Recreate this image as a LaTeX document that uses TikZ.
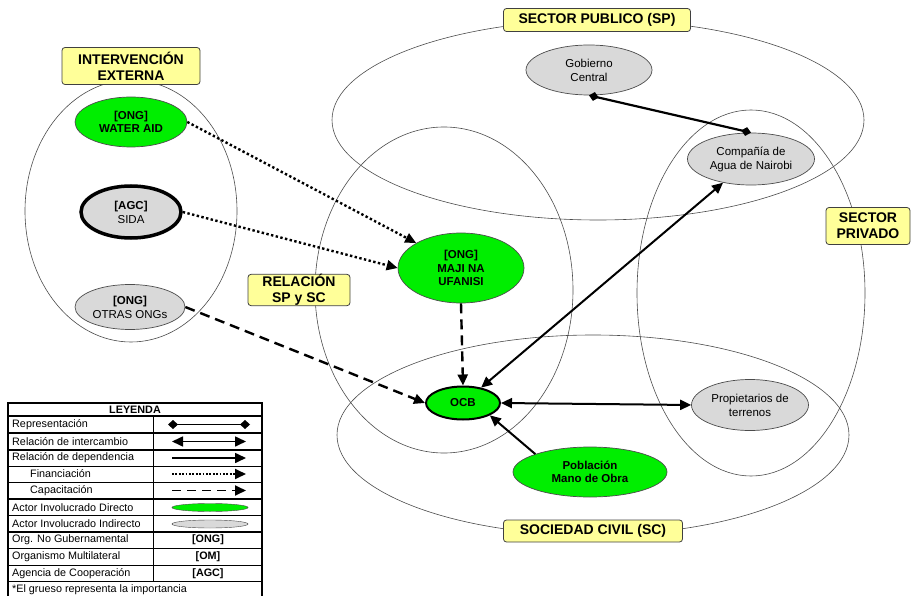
\documentclass[tikz,border=0pt]{standalone}
\usepackage{fontspec}
\setmainfont{Liberation Sans}
\usetikzlibrary{shapes.geometric,arrows.meta}
\definecolor{tagyellow}{RGB}{255,255,153}
\definecolor{actgreen}{RGB}{0,238,0}
\definecolor{actgray}{RGB}{217,217,217}
\tikzset{%
	region/.style={draw=black!70, line width=0.6pt},
	tag/.style={draw=black!75, fill=tagyellow, rounded corners=3pt, line width=0.8pt,
		align=center, inner sep=0pt, font=\bfseries\fontsize{14}{16}\selectfont},
	actor/.style={ellipse, draw=black!70, line width=0.7pt, align=center, inner sep=0pt,
		font=\fontsize{11.5}{14}\selectfont},
	direct/.style={actor, fill=actgreen, font=\bfseries\fontsize{11.5}{13.5}\selectfont},
	indirect/.style={actor, fill=actgray},
	repr/.style={line width=2.2pt, {Diamond[length=10pt,width=9pt]}-{Diamond[length=10pt,width=9pt]}},
	exch/.style={line width=2pt, {Triangle[length=11pt,width=10pt]}-{Triangle[length=11pt,width=10pt]}},
	dep/.style={line width=2pt, -{Triangle[length=11pt,width=10pt]}},
	fund/.style={dep, line width=2.4pt, dash pattern=on 2.4pt off 2.4pt},
	train/.style={dep, line width=2.4pt, dash pattern=on 10pt off 6pt},
	legtext/.style={anchor=west, inner sep=0pt, font=\fontsize{10.8}{12}\selectfont},
	legcode/.style={inner sep=0pt, font=\bfseries\fontsize{10.8}{12}\selectfont}
}

\begin{document}
\begin{tikzpicture}[x=1pt, y=-1pt]
	\useasboundingbox (0,0) rectangle (913,596);
	% regions
	\draw [region] (131,211) ellipse [x radius=106pt, y radius=131pt];
	\draw [region] (598,120) ellipse [x radius=266pt, y radius=100pt];
	\draw [region] (444,290) ellipse [x radius=129pt, y radius=163pt];
	\draw [region] (751,293) ellipse [x radius=114pt, y radius=183pt];
	\draw [region] (593,435) ellipse [x radius=256pt, y radius=100pt];
	\node [tag, minimum width=138pt, minimum height=37pt] (tagext) at (131,66) {INTERVENCIÓN\\EXTERNA};
	\node [tag, minimum width=187pt, minimum height=23pt] (tagsp) at (597,20) {SECTOR PUBLICO (SP)};
	\node [tag, minimum width=102pt, minimum height=31pt] (tagrel) at (299,290) {RELACIÓN\\SP y SC};
	\node [tag, minimum width=84pt, minimum height=37pt] (tagpriv) at (868,226) {SECTOR\\PRIVADO};
	\node [tag, minimum width=179pt, minimum height=22pt] (tagsc) at (593,531) {SOCIEDAD CIVIL (SC)};
	% actors
	\node [direct, minimum width=112pt, minimum height=50pt] (wateraid) at (131,122) {[ONG]\\WATER AID};
	\node [indirect, draw=black, line width=3.5pt, minimum width=100pt, minimum height=52pt] (sida) at (131,212) {\textbf{[AGC]}\\SIDA};
	\node [indirect, minimum width=110pt, minimum height=45pt] (otras) at (130,307) {\textbf{[ONG]}\\OTRAS ONGs};
	\node [indirect, minimum width=126pt, minimum height=50pt] (gobierno) at (589,70) {Gobierno\\Central};
	\node [indirect, minimum width=127pt, minimum height=52pt] (compania) at (751,159) {Compañía de\\Agua de Nairobi};
	\node [direct, minimum width=126pt, minimum height=70pt] (maji) at (461,268) {[ONG]\\MAJI NA\\UFANISI};
	\node [direct, draw=black, line width=2pt, minimum width=74pt, minimum height=33pt] (ocb) at (463,403) {OCB};
	\node [indirect, minimum width=117pt, minimum height=51pt] (propiet) at (750,405) {Propietarios de\\terrenos};
	\node [direct, minimum width=154pt, minimum height=50pt] (poblacion) at (590,472) {Población\\Mano de Obra};
	% relations
	\draw [repr] (gobierno.south) -- (compania.north);
	\draw [fund] (wateraid.east) -- (maji.north west);
	\draw [fund] (sida.east) -- (maji.west);
	\draw [train] (otras.east) -- (ocb.west);
	\draw [train] (maji.south) -- (ocb.north);
	\draw [exch] (ocb) -- (compania);
	\draw [exch] (ocb.east) -- (propiet.west);
	\draw [dep] (poblacion.north west) -- (ocb.south east);
	% legend
	\draw [line width=1.5pt] (8,596) -- (8,403) -- (262,403) -- (262,596);
	\draw [line width=1.2pt] (8,416) -- (262,416);
	\draw [line width=1.5pt] (8,433) -- (262,433);
	\draw [line width=1.5pt] (8,450) -- (262,450);
	\draw [line width=0.6pt] (8,466) -- (262,466);
	\draw [line width=0.6pt] (8,482.5) -- (262,482.5);
	\draw [line width=1.5pt] (8,499) -- (262,499);
	\draw [line width=0.6pt] (8,515.5) -- (262,515.5);
	\draw [line width=1.5pt] (8,532) -- (262,532);
	\draw [line width=0.6pt] (8,548.5) -- (262,548.5);
	\draw [line width=0.6pt] (8,565) -- (262,565);
	\draw [line width=0.6pt] (8,581.5) -- (262,581.5);
	\draw [line width=0.8pt] (153,416) -- (153,581.5);
	\node [legcode] (leghead) at (135,409.5) {LEYENDA};
	\node [legtext] (leg1) at (12,424.5) {Representación};
	\node [legtext] (leg2) at (12,441.5) {Relación de intercambio};
	\node [legtext] (leg3) at (12,458) {Relación de dependencia};
	\node [legtext] (leg4) at (30,474) {Financiación};
	\node [legtext] (leg5) at (30,490.5) {Capacitación};
	\node [legtext] (leg6) at (12,507.5) {Actor Involucrado Directo};
	\node [legtext] (leg7) at (12,524) {Actor Involucrado Indirecto};
	\node [legtext] (leg8) at (12,540) {Org. No Gubernamental};
	\node [legtext] (leg9) at (12,556.5) {Organismo Multilateral};
	\node [legtext] (leg10) at (12,573.5) {Agencia de Cooperación};
	\node [legtext] (leg11) at (12,589.5) {*El grueso representa la importancia};
	\coordinate (repra) at (168,424.5);
	\coordinate (reprb) at (250,424.5);
	\coordinate (excha) at (172,441.5);
	\coordinate (exchb) at (246,441.5);
	\coordinate (depa) at (172,458);
	\coordinate (depb) at (246,458);
	\coordinate (funda) at (172,474);
	\coordinate (fundb) at (246,474);
	\coordinate (traina) at (172,490.5);
	\coordinate (trainb) at (246,490.5);
	\draw [repr, line width=1.6pt] (repra) -- (reprb);
	\draw [exch, line width=1.6pt] (excha) -- (exchb);
	\draw [dep, line width=1.6pt] (depa) -- (depb);
	\draw [fund, line width=1.8pt, dash pattern=on 1.8pt off 1.6pt] (funda) -- (fundb);
	\draw [train, line width=1.8pt, dash pattern=on 9pt off 6pt] (traina) -- (trainb);
	\node [ellipse, draw=black!70, fill=actgreen, inner sep=0pt, minimum width=76pt, minimum height=8pt] (legdirect) at (210,507.5) {};
	\node [ellipse, draw=black!70, fill=actgray, inner sep=0pt, minimum width=76pt, minimum height=8pt] (legindirect) at (210,524) {};
	\node [legcode] (legong) at (208,540) {[ONG]};
	\node [legcode] (legom) at (208,556.5) {[OM]};
	\node [legcode] (legagc) at (208,573.5) {[AGC]};
\end{tikzpicture}
\end{document}
